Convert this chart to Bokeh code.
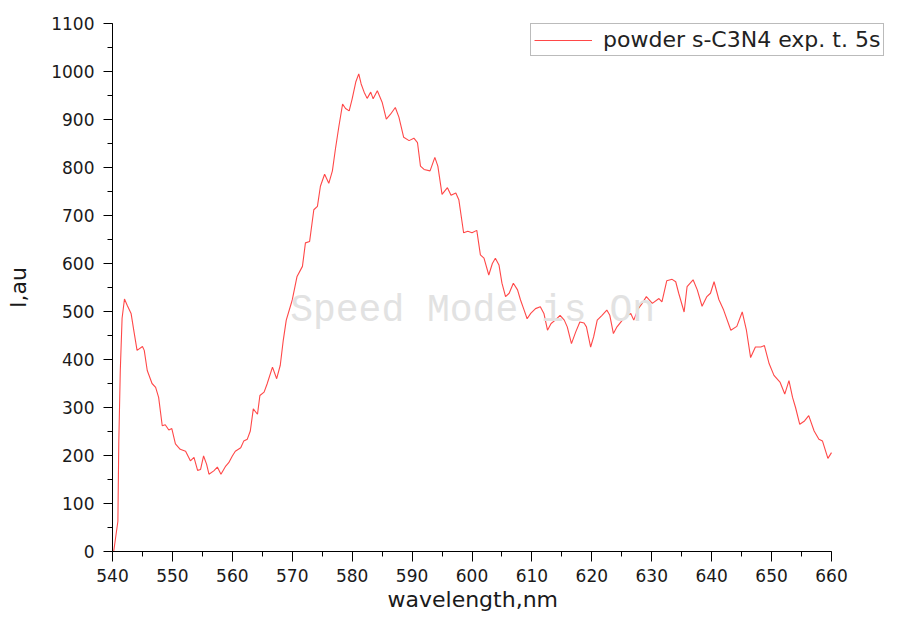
from bokeh.plotting import figure
from bokeh.models import Range1d, SingleIntervalTicker, Label, Legend, LegendItem, Title
from bokeh.embed import file_html
from bokeh.resources import INLINE

wavelength = [540.2, 540.9, 541.05, 541.3, 541.6, 542.0, 542.45, 543.1, 543.6, 544.1,
              545.0, 545.3, 545.8, 546.6, 547.2, 547.7, 548.3, 548.8, 549.4, 549.9,
              550.5, 551.3, 552.2, 553.0, 553.6, 554.2, 554.7, 555.2, 555.7, 556.1,
              556.9, 557.5, 558.1, 558.9, 559.4, 560.0, 560.5, 561.4, 561.9, 562.5,
              563.0, 563.5, 564.2, 564.6, 565.3, 565.8, 566.7, 567.4, 568.0, 568.5,
              569.0, 570.0, 570.8, 571.7, 572.2, 572.9, 573.6, 574.2, 574.7, 575.4,
              576.1, 576.7, 577.2, 577.8, 578.4, 578.9, 579.5, 580.0, 580.6, 581.1,
              581.5, 582.0, 582.5, 583.1, 583.5, 584.2, 585.0, 585.7, 586.4, 587.2,
              587.8, 588.6, 589.5, 590.3, 590.9, 591.4, 592.0, 593.0, 593.8, 594.3,
              595.0, 595.9, 596.5, 597.3, 597.8, 598.6, 599.3, 600.0, 600.8, 601.4,
              602.0, 602.8, 603.4, 603.9, 604.5, 605.0, 605.6, 606.2, 606.9, 607.6,
              608.1, 608.7, 609.2, 609.8, 610.6, 611.4, 612.0, 612.6, 613.2, 613.9,
              614.7, 615.4, 615.9, 616.6, 617.3, 618.0, 618.7, 619.1, 619.8, 620.3,
              620.9, 621.7, 622.5, 623.0, 623.6, 624.2, 625.1, 625.9, 626.5, 627.0,
              627.7, 628.4, 629.1, 630.1, 631.2, 631.7, 632.5, 633.4, 634.0, 634.5,
              635.4, 635.9, 636.9, 637.6, 638.4, 639.2, 639.8, 640.4, 641.2, 642.0,
              643.2, 644.2, 645.1, 645.8, 646.5, 647.3, 648.2, 648.8, 649.6, 650.4,
              651.4, 652.2, 652.9, 653.5, 654.0, 654.7, 655.5, 656.2, 657.1, 657.9,
              658.5, 659.4, 660.0]

intensity = [0, 63, 227, 377, 486, 526, 513, 496, 457, 419,
             427, 419, 377, 350, 342, 321, 262, 264, 253, 256,
             224, 213, 209, 189, 196, 169, 171, 199, 182, 161,
             168, 176, 161, 178, 185, 199, 209, 216, 230, 234,
             251, 297, 286, 325, 332, 349, 384, 360, 388, 440,
             482, 524, 573, 594, 643, 646, 712, 719, 761, 786,
             767, 793, 838, 887, 932, 923, 918, 943, 978, 995,
             974, 957, 944, 957, 943, 960, 936, 901, 911, 925,
             905, 863, 856, 861, 852, 803, 796, 793, 821, 803,
             744, 758, 742, 747, 733, 664, 667, 664, 669, 618,
             611, 576, 600, 611, 597, 559, 531, 538, 559, 545,
             524, 503, 485, 496, 506, 510, 496, 461, 475, 482,
             492, 482, 468, 433, 457, 478, 476, 468, 426, 447,
             482, 492, 503, 492, 454, 468, 482, 492, 496, 482,
             505, 517, 531, 517, 527, 520, 564, 567, 562, 538,
             499, 552, 566, 545, 511, 531, 538, 562, 525, 503,
             461, 469, 499, 461, 404, 426, 426, 429, 391, 367,
             353, 328, 356, 321, 300, 265, 272, 283, 251, 234,
             230, 194, 206]

series_name = "powder s-C3N4 exp. t. 5s"
x_title = "wavelength,nm"
y_title = "I,au"
watermark = "Speed Mode is On"

FONT = "DejaVu Sans"

W, H = 886, 614
LEFT, RIGHT_AXIS, TOP, BOTTOM = 112, 831, 23, 551
px_per_nm = (RIGHT_AXIS - LEFT) / 120.0
x_end = 540 + (W - LEFT) / px_per_nm  # frame extends to the right edge so the legend is not clipped

p = figure(width=W, height=H, output_backend="svg", toolbar_location=None,
           x_range=Range1d(540, x_end), y_range=Range1d(0, 1100),
           min_border_left=LEFT, min_border_right=0, min_border_top=TOP,
           min_border_bottom=H - BOTTOM)
p.outline_line_color = None
p.xgrid.visible = False
p.ygrid.visible = False
p.background_fill_color = "white"
p.border_fill_color = "white"

r = p.line(wavelength, intensity, line_color="#ff4848", line_width=1.1)

p.add_layout(Label(x=600.1, y=502, text=watermark, text_font="Liberation Mono",
                   text_font_size="38px", text_color="#e2e2e2",
                   text_align="center", text_baseline="middle"))

p.xaxis.ticker = SingleIntervalTicker(interval=10, num_minor_ticks=2)
p.yaxis.ticker = SingleIntervalTicker(interval=100, num_minor_ticks=2)
p.xaxis.bounds = (540, 660)

for ax in (p.xaxis[0], p.yaxis[0]):
    ax.axis_line_color = "black"
    ax.axis_line_width = 1
    ax.major_tick_line_color = "black"
    ax.minor_tick_line_color = "black"
    ax.major_tick_in = 0
    ax.major_tick_out = 10
    ax.minor_tick_in = 0
    ax.minor_tick_out = 5
    ax.major_label_text_font = FONT
    ax.major_label_text_font_size = "17px"
    ax.major_label_text_color = "#1a1a1a"
    ax.axis_label_text_font = FONT
    ax.axis_label_text_font_size = "22px"
    ax.axis_label_text_font_style = "normal"
    ax.axis_label_text_color = "#1a1a1a"

p.yaxis.major_tick_out = 9
p.yaxis.axis_label = y_title
p.xaxis.major_label_standoff = 7
p.yaxis.major_label_standoff = 9
p.yaxis.axis_label_standoff = 17

# x title centred under the 540..660 axis (the frame itself is wider)
p.add_layout(Title(text=x_title, align="left", offset=275, standoff=0,
                   text_font=FONT, text_font_size="22px", text_font_style="normal",
                   text_color="#1a1a1a"), "below")

legend = Legend(items=[LegendItem(label=series_name, renderers=[r])],
                location=(530 - LEFT, BOTTOM - 56), orientation="vertical",
                padding=3, margin=0, spacing=0,
                glyph_width=58, glyph_height=24, label_height=24, label_standoff=11,
                label_text_font=FONT, label_text_font_size="22px", label_text_color="#222222",
                border_line_color="#777777", border_line_width=1.5,
                background_fill_color="white", background_fill_alpha=1)
p.add_layout(legend, "center")

open("out.html", "w").write(file_html(p, INLINE))
